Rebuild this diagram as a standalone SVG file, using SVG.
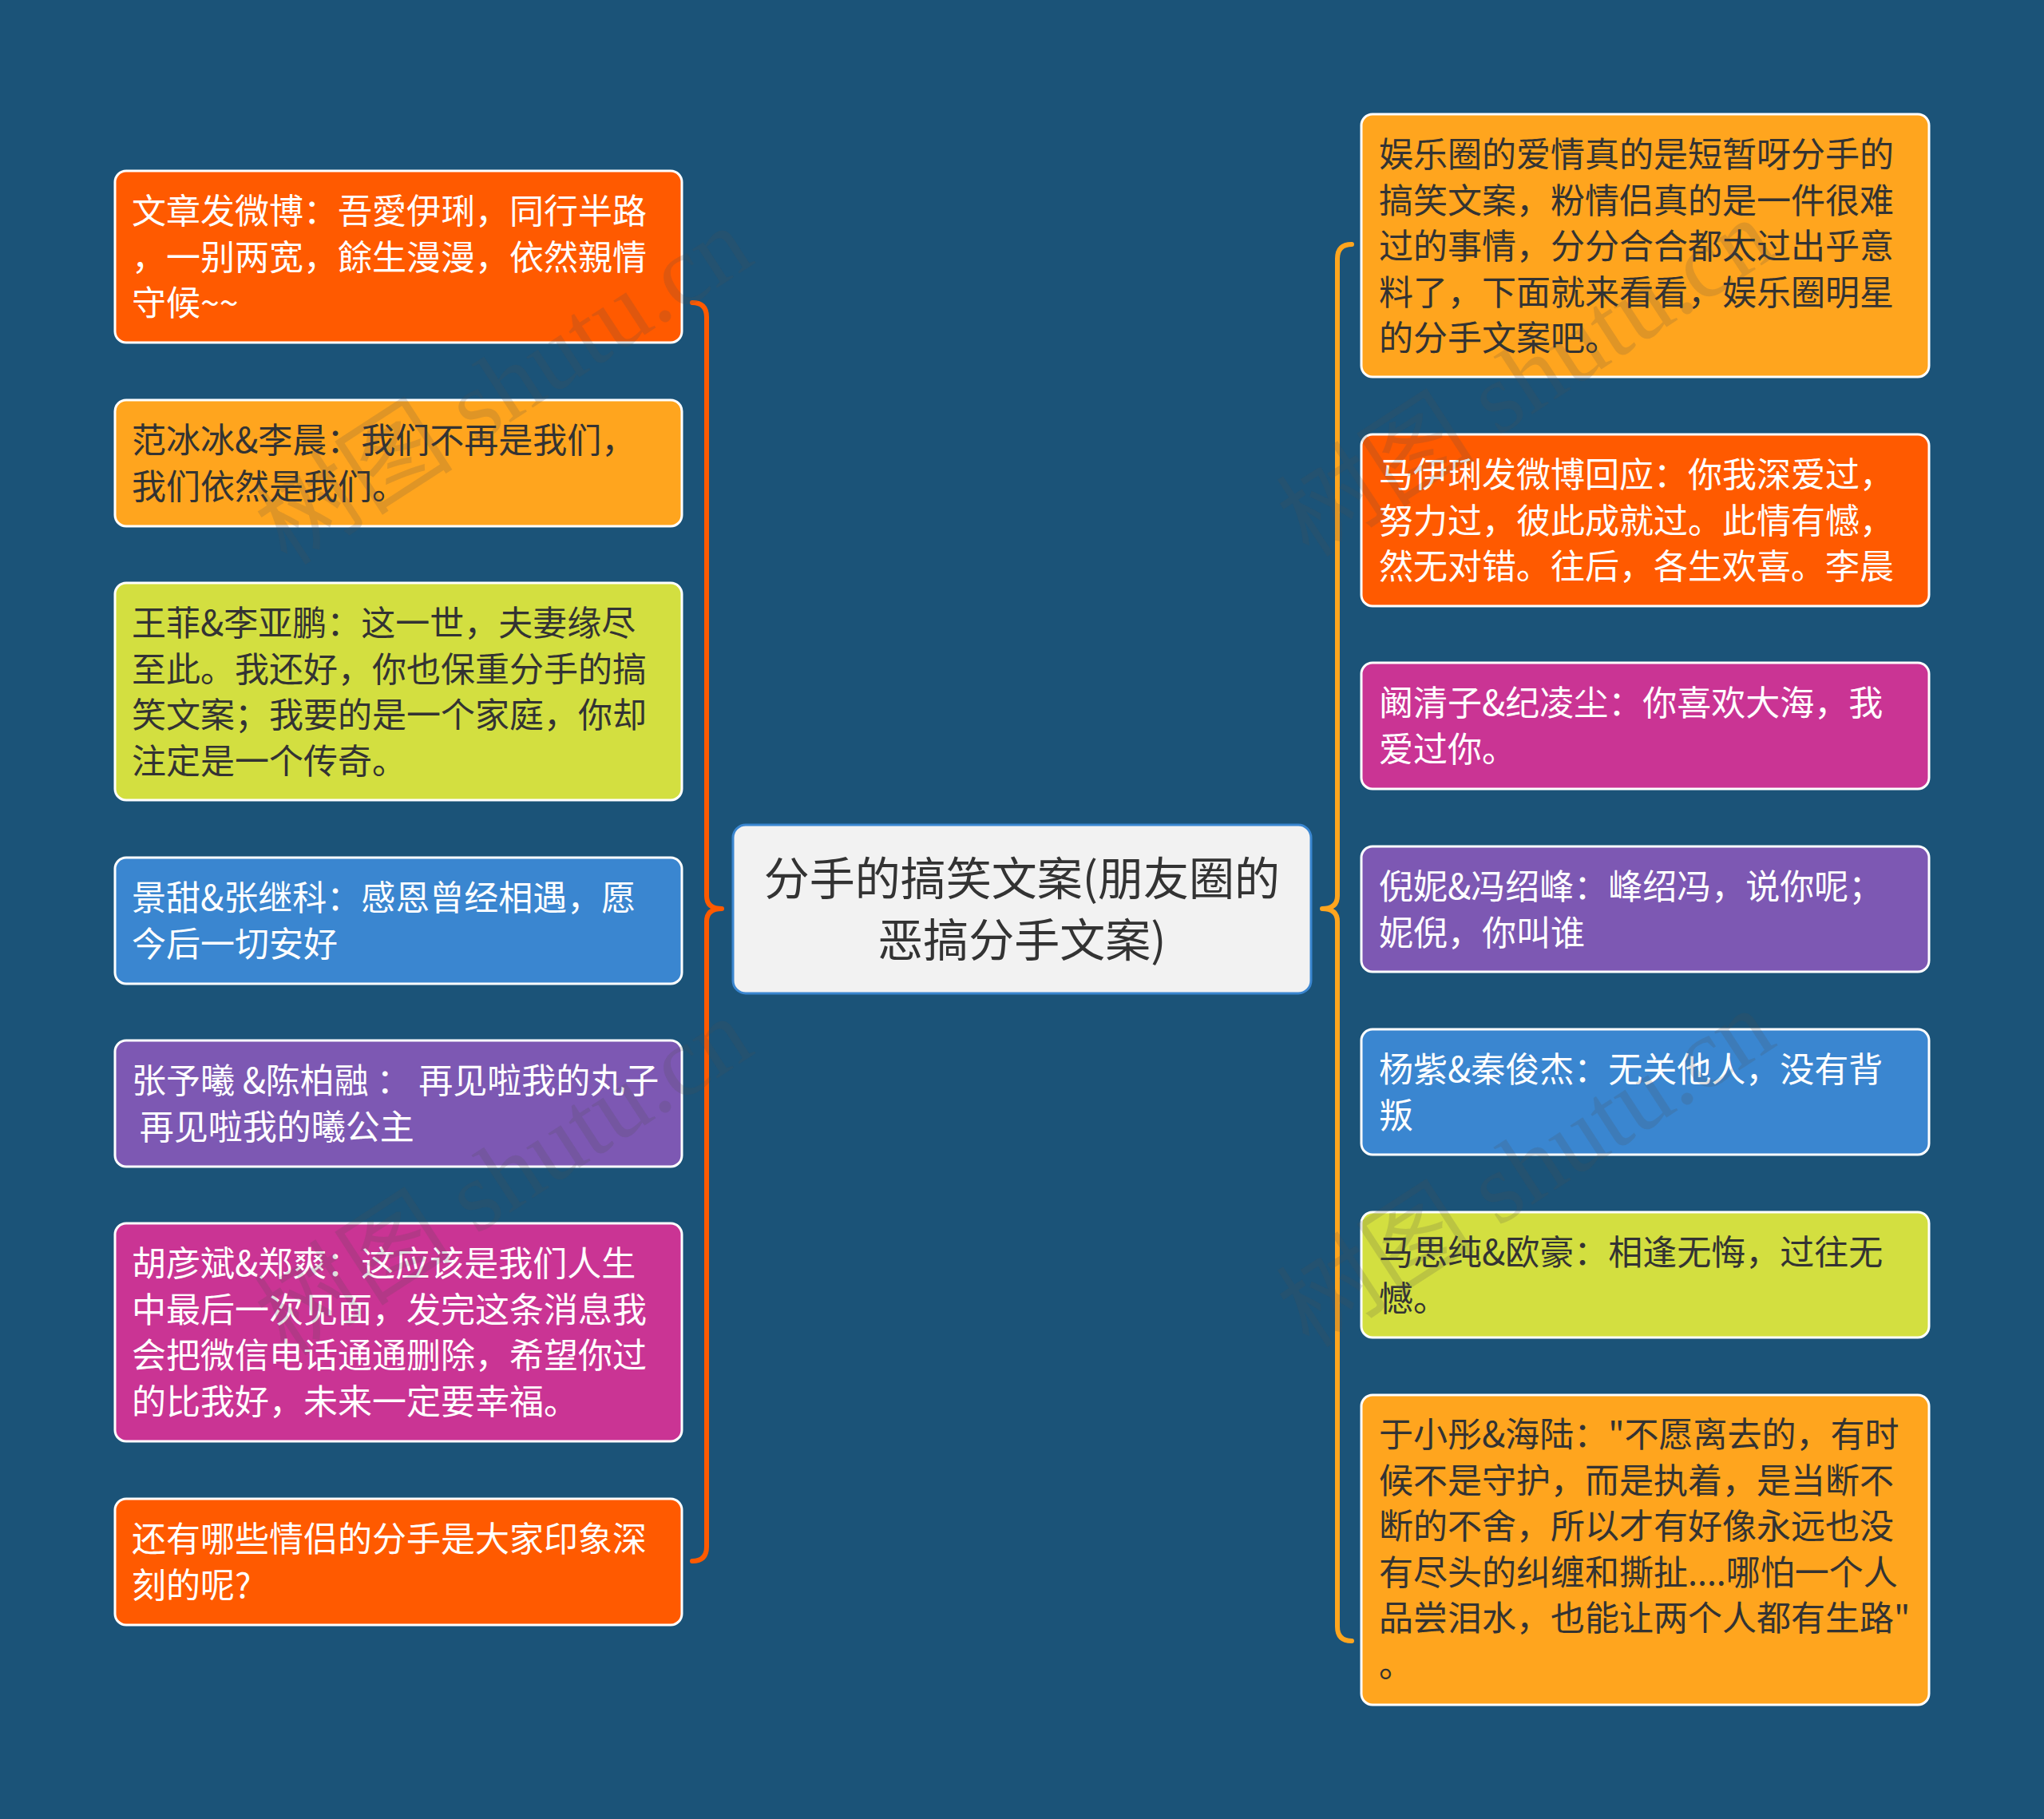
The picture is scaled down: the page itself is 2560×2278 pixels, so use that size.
<svg xmlns="http://www.w3.org/2000/svg" width="2560" height="2278" viewBox="0 0 2560 2278">
<style>
.bg{fill:#1B5378}
.n rect{stroke:#FFFFFF;stroke-width:3}
.t{font-family:"Noto Sans CJK SC","Noto Sans",sans-serif;font-size:43px;white-space:pre}
.w{fill:#FFFFFF}
.d{fill:#333333}
.orange{fill:#FF5A00}
.amber{fill:#FFA51E}
.lime{fill:#D3DF40}
.blue{fill:#3A86D0}
.purple{fill:#7D58B3}
.magenta{fill:#CA3494}
.brace{fill:none;stroke-width:6;stroke-linecap:round;stroke-linejoin:round}
.wm{font-family:"Liberation Serif","Noto Sans CJK SC",serif;font-size:125px;fill:#505050;fill-opacity:0.18}
</style>
<rect class="bg" x="0" y="0" width="2560" height="2278"/>

<g id="connectors">
<path class="brace" stroke="#FF5A00" d="M867 379 Q885 379 885 397 L885 1122 Q885 1138 904 1138 Q885 1138 885 1154 L885 1937 Q885 1955 867 1955"/>
<path class="brace" stroke="#FFA51E" d="M1693 306 Q1675 306 1675 324 L1675 1122 Q1675 1138 1656 1138 Q1675 1138 1675 1154 L1675 2037 Q1675 2055 1693 2055"/>
</g>

<g id="center" class="n">
<rect x="918" y="1033" width="724" height="211" rx="16" fill="#F2F2F2" style="stroke:#3A86D0;stroke-width:3"/>
<text font-family="Noto Sans CJK SC, sans-serif" font-size="57" fill="#333333" text-anchor="middle"><tspan x="1280" y="1121">分手的搞笑文案(朋友圈的</tspan><tspan x="1280" y="1198">恶搞分手文案)</tspan></text>
</g>

<g id="L1" class="n">
<rect class="orange" x="144" y="214" width="710" height="215" rx="14"/>
<text class="t w"><tspan x="165" y="280">文章发微博：吾愛伊琍，同行半路</tspan><tspan x="165" y="337.5">，一别两宽，餘生漫漫，依然親情</tspan><tspan x="165" y="395">守候~~</tspan></text>
</g>
<g id="L2" class="n">
<rect class="amber" x="144" y="501" width="710" height="158" rx="14"/>
<text class="t d"><tspan x="165" y="567">范冰冰&amp;李晨：我们不再是我们，</tspan><tspan x="165" y="624.5">我们依然是我们。</tspan></text>
</g>
<g id="L3" class="n">
<rect class="lime" x="144" y="730" width="710" height="272" rx="14"/>
<text class="t d"><tspan x="165" y="796">王菲&amp;李亚鹏：这一世，夫妻缘尽</tspan><tspan x="165" y="853.5">至此。我还好，你也保重分手的搞</tspan><tspan x="165" y="911">笑文案；我要的是一个家庭，你却</tspan><tspan x="165" y="968.5">注定是一个传奇。</tspan></text>
</g>
<g id="L4" class="n">
<rect class="blue" x="144" y="1074" width="710" height="158" rx="14"/>
<text class="t w"><tspan x="165" y="1140">景甜&amp;张继科：感恩曾经相遇，愿</tspan><tspan x="165" y="1197.5">今后一切安好</tspan></text>
</g>
<g id="L5" class="n">
<rect class="purple" x="144" y="1303" width="710" height="158" rx="14"/>
<text class="t w"><tspan x="165" y="1369">张予曦 &amp;陈柏融 ： 再见啦我的丸子</tspan><tspan x="165" y="1426.5"> 再见啦我的曦公主</tspan></text>
</g>
<g id="L6" class="n">
<rect class="magenta" x="144" y="1532" width="710" height="273" rx="14"/>
<text class="t w"><tspan x="165" y="1598">胡彦斌&amp;郑爽：这应该是我们人生</tspan><tspan x="165" y="1655.5">中最后一次见面，发完这条消息我</tspan><tspan x="165" y="1713">会把微信电话通通删除，希望你过</tspan><tspan x="165" y="1770.5">的比我好，未来一定要幸福。</tspan></text>
</g>
<g id="L7" class="n">
<rect class="orange" x="144" y="1877" width="710" height="158" rx="14"/>
<text class="t w"><tspan x="165" y="1943">还有哪些情侣的分手是大家印象深</tspan><tspan x="165" y="2000.5">刻的呢?</tspan></text>
</g>

<g id="R1" class="n">
<rect class="amber" x="1705" y="143" width="711" height="329" rx="14"/>
<text class="t d"><tspan x="1727" y="209">娱乐圈的爱情真的是短暂呀分手的</tspan><tspan x="1727" y="266.5">搞笑文案，粉情侣真的是一件很难</tspan><tspan x="1727" y="324">过的事情，分分合合都太过出乎意</tspan><tspan x="1727" y="381.5">料了，下面就来看看，娱乐圈明星</tspan><tspan x="1727" y="439">的分手文案吧。</tspan></text>
</g>
<g id="R2" class="n">
<rect class="orange" x="1705" y="544" width="711" height="215" rx="14"/>
<text class="t w"><tspan x="1727" y="610">马伊琍发微博回应：你我深爱过，</tspan><tspan x="1727" y="667.5">努力过，彼此成就过。此情有憾，</tspan><tspan x="1727" y="725">然无对错。往后，各生欢喜。李晨</tspan></text>
</g>
<g id="R3" class="n">
<rect class="magenta" x="1705" y="830" width="711" height="158" rx="14"/>
<text class="t w"><tspan x="1727" y="896">阚清子&amp;纪凌尘：你喜欢大海，我</tspan><tspan x="1727" y="953.5">爱过你。</tspan></text>
</g>
<g id="R4" class="n">
<rect class="purple" x="1705" y="1060" width="711" height="157" rx="14"/>
<text class="t w"><tspan x="1727" y="1126">倪妮&amp;冯绍峰：峰绍冯，说你呢；</tspan><tspan x="1727" y="1183.5">妮倪，你叫谁</tspan></text>
</g>
<g id="R5" class="n">
<rect class="blue" x="1705" y="1289" width="711" height="157" rx="14"/>
<text class="t w"><tspan x="1727" y="1355">杨紫&amp;秦俊杰：无关他人，没有背</tspan><tspan x="1727" y="1412.5">叛</tspan></text>
</g>
<g id="R6" class="n">
<rect class="lime" x="1705" y="1518" width="711" height="157" rx="14"/>
<text class="t d"><tspan x="1727" y="1584">马思纯&amp;欧豪：相逢无悔，过往无</tspan><tspan x="1727" y="1641.5">憾。</tspan></text>
</g>
<g id="R7" class="n">
<rect class="amber" x="1705" y="1747" width="711" height="388" rx="14"/>
<text class="t d"><tspan x="1727" y="1812">于小彤&amp;海陆："不愿离去的，有时</tspan><tspan x="1727" y="1869.5">候不是守护，而是执着，是当断不</tspan><tspan x="1727" y="1927">断的不舍，所以才有好像永远也没</tspan><tspan x="1727" y="1984.5">有尽头的纠缠和撕扯....哪怕一个人</tspan><tspan x="1727" y="2042">品尝泪水，也能让两个人都有生路"</tspan><tspan x="1727" y="2099.5">。</tspan></text>
</g>

<g id="watermarks">
<text class="wm" transform="translate(360 710) rotate(-33)">树图 shutu.cn</text>
<text class="wm" transform="translate(1640 700) rotate(-33)">树图 shutu.cn</text>
<text class="wm" transform="translate(360 1700) rotate(-33)">树图 shutu.cn</text>
<text class="wm" transform="translate(1640 1690) rotate(-33)">树图 shutu.cn</text>
</g>
</svg>
